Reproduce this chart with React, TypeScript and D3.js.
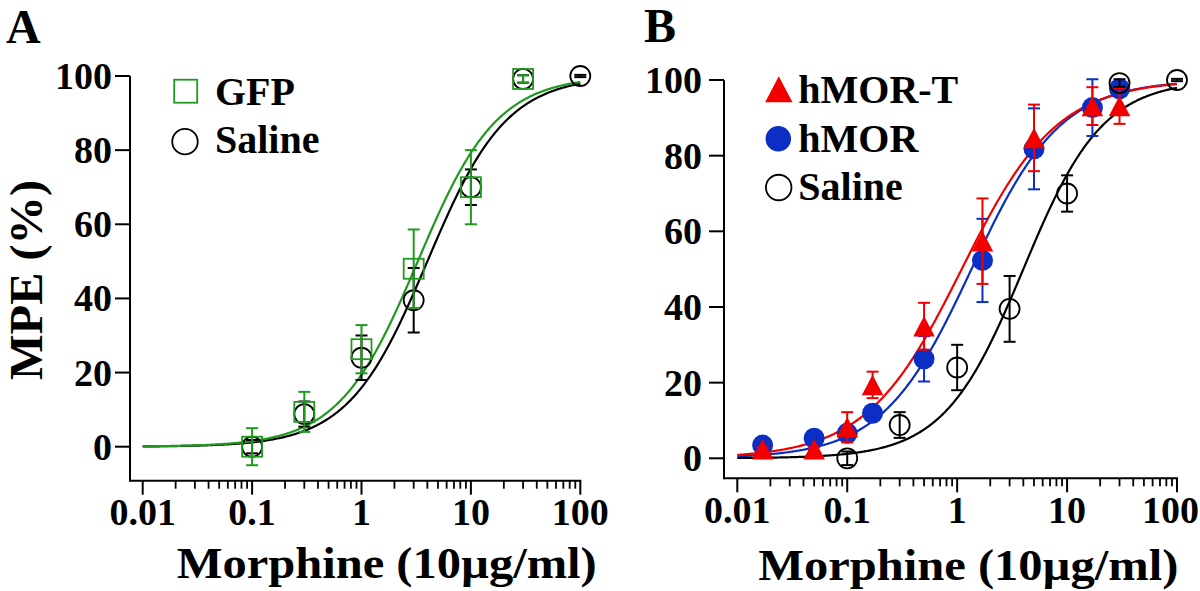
import React from "react";
import * as d3 from "d3";

// ---------- data ----------
const salineDoses = [0.1, 0.3, 1, 3, 10, 30, 100];
const salineMPE = [0, 8.8, 24, 39.5, 70, 99.2, 100];
const salineSEM = [1.8, 3.4, 6, 8.7, 4.8, 1, 0.3];

const gfpDoses = [0.1, 0.3, 1, 3, 10, 30];
const gfpMPE = [0, 9.4, 26.3, 48, 70, 99.2];
const gfpSEM = [5, 5.4, 6.5, 10.6, 10, 1];

const hmorDoses = [0.017, 0.05, 0.1, 0.17, 0.5, 1.7, 5, 17, 30];
const hmorMPE = [3.5, 5.3, 6.6, 11.9, 26.3, 52.3, 81.8, 92.7, 97.7];
const hmorSEM = [1, 1.5, 2, 1.5, 6, 11, 10.7, 7.5, 1.5];
const hmorTMPE = [2.4, 2.4, 8.2, 19.4, 34.9, 57.4, 84.7, 93.1, 93.1];
const hmorTSEM = [0.5, 0.5, 4, 3.5, 6.2, 11.3, 8.8, 5, 4.7];

// fitted dose-response parameters: [EC50, Hill slope]
const fitSaline = [4.0, 1.2];
const fitGFP = [3.27, 1.2];
const fitHMOR = [1.35, 1.07];
const fitHMORT = [1.1, 1.0];

const xTickValues = [0.01, 0.1, 1, 10, 100];
const xTickLabels = ["0.01", "0.1", "1", "10", "100"];
const yTickValues = [0, 20, 40, 60, 80, 100];

const xTitle = "Morphine (10\u00b5g/ml)";
const yTitle = "MPE (%)";

const GREEN = "#1f9a1f";
const RED = "#f20000";
const BLUE = "#0b2fc4";
const BLACK = "#000";
const FONT = "'Liberation Serif', 'Times New Roman', Times, serif";

const hill = (x: number, p: number[]) => 100 / (1 + Math.pow(p[0] / x, p[1]));

type MarkerKind = "square" | "circle" | "disc" | "triangle";

type Series = {
  doses: number[];
  mean: number[];
  sem: number[];
  color: string;
  marker: MarkerKind;
  fit: number[];
};

type LegendItem = { label: string; marker: MarkerKind; color: string; cx: number; cy: number; tx: number; ty: number };

type PanelProps = {
  letter: string;
  letterX: number;
  letterY: number;
  xRange: [number, number];
  yRange: [number, number];
  axisX: number;
  axisY: number;
  yLabelGap: number;
  titleX: number;
  titleY: number;
  showYTitle: boolean;
  series: Series[];
  legend: LegendItem[];
};

function Marker({ kind, cx, cy, color, size }: { kind: MarkerKind; cx: number; cy: number; color: string; size: number }) {
  if (kind === "square") {
    return <rect x={cx - size / 2} y={cy - size / 2} width={size} height={size} fill="none" stroke={color} strokeWidth={1.8} />;
  }
  if (kind === "circle") {
    return <circle cx={cx} cy={cy} r={size / 2} fill="none" stroke={color} strokeWidth={1.8} />;
  }
  if (kind === "disc") {
    return <circle cx={cx} cy={cy} r={size / 2} fill={color} stroke="none" />;
  }
  const w = size * 1.05;
  const h = size;
  const pts = [
    [cx, cy - h / 2],
    [cx + w / 2, cy + h / 2],
    [cx - w / 2, cy + h / 2],
  ];
  return <polygon points={pts.map((p) => p.join(",")).join(" ")} fill={color} />;
}

function Panel(props: PanelProps) {
  const x = d3.scaleLog().domain([0.01, 100]).range(props.xRange);
  const y = d3.scaleLinear().domain([0, 100]).range(props.yRange);
  const minor: number[] = [];
  [0.01, 0.1, 1, 10].forEach((d) => {
    for (let k = 2; k <= 9; k++) minor.push(d * k);
  });
  const curveX = d3.range(0, 401).map((i) => Math.pow(10, -2 + (4 * i) / 400));
  const cap = 6;
  return (
    <g>
      <text x={props.letterX} y={props.letterY} fontFamily={FONT} fontWeight="bold" fontSize={48}>
        {props.letter}
      </text>
      {/* axes */}
      <line x1={props.axisX} x2={props.axisX} y1={y(100)} y2={props.axisY + 1} stroke={BLACK} strokeWidth={2} />
      <line x1={props.axisX} x2={x(100) + 1} y1={props.axisY} y2={props.axisY} stroke={BLACK} strokeWidth={2} />
      {yTickValues.map((v) => (
        <g key={"yt" + v}>
          <line x1={props.axisX - 15} x2={props.axisX} y1={y(v)} y2={y(v)} stroke={BLACK} strokeWidth={2} />
          <text
            x={props.axisX - props.yLabelGap}
            y={y(v) + 13}
            textAnchor="end"
            fontFamily={FONT}
            fontWeight="bold"
            fontSize={38}
          >
            {v}
          </text>
        </g>
      ))}
      {xTickValues.map((v, i) => {
        const tx = x(v);
        const halfW = xTickLabels[i].length * 9.5;
        const overflow = tx + halfW > 1199;
        return (
          <g key={"xt" + v}>
            <line x1={tx} x2={tx} y1={props.axisY} y2={props.axisY + 14} stroke={BLACK} strokeWidth={2} />
            <text
              x={overflow ? 1199 : tx}
              y={props.axisY + 44.5}
              textAnchor={overflow ? "end" : "middle"}
              fontFamily={FONT}
              fontWeight="bold"
              fontSize={38}
            >
              {xTickLabels[i]}
            </text>
          </g>
        );
      })}
      {minor.map((v) => (
        <line key={"mt" + v} x1={x(v)} x2={x(v)} y1={props.axisY} y2={props.axisY + 8} stroke={BLACK} strokeWidth={1.8} />
      ))}
      <text
        x={props.titleX}
        y={props.titleY}
        fontFamily={FONT}
        fontWeight="bold"
        fontSize={45}
        textLength={420}
        lengthAdjust="spacingAndGlyphs"
      >
        {xTitle}
      </text>
      {props.showYTitle && (
        <text
          transform={`translate(41.5,280) rotate(-90)`}
          textAnchor="middle"
          fontFamily={FONT}
          fontWeight="bold"
          fontSize={47}
          textLength={200}
          lengthAdjust="spacingAndGlyphs"
        >
          {yTitle}
        </text>
      )}
      {/* fitted curves */}
      {props.series.map((s, si) => {
        const path = d3
          .line<number>()
          .x((d) => x(d))
          .y((d) => y(hill(d, s.fit)))(curveX) as string;
        return <path key={"c" + si} d={path} fill="none" stroke={s.color} strokeWidth={2.2} />;
      })}
      {/* points with SEM bars */}
      {props.series.map((s, si) => (
        <g key={"s" + si}>
          {s.doses.map((d, i) => {
            const cx = x(d);
            const top = y(s.mean[i] + s.sem[i]);
            const bot = y(s.mean[i] - s.sem[i]);
            return (
              <g key={i}>
                <line x1={cx} x2={cx} y1={top} y2={bot} stroke={s.color} strokeWidth={2} />
                <line x1={cx - cap} x2={cx + cap} y1={top} y2={top} stroke={s.color} strokeWidth={2} />
                <line x1={cx - cap} x2={cx + cap} y1={bot} y2={bot} stroke={s.color} strokeWidth={2} />
              </g>
            );
          })}
          {s.doses.map((d, i) => (
            <Marker
              key={"m" + i}
              kind={s.marker}
              cx={x(d)}
              cy={y(s.mean[i])}
              color={s.color}
              size={s.marker === "triangle" ? 20.5 : s.marker === "disc" ? 21 : 20}
            />
          ))}
        </g>
      ))}
      {/* legend */}
      {props.legend.map((l, i) => (
        <g key={"l" + i}>
          <Marker
            kind={l.marker}
            cx={l.cx}
            cy={l.cy}
            color={l.color}
            size={l.marker === "triangle" ? 26 : l.marker === "square" ? 23 : 25.5}
          />
          <text x={l.tx} y={l.ty} fontFamily={FONT} fontWeight="bold" fontSize={40}>
            {l.label}
          </text>
        </g>
      ))}
    </g>
  );
}

export default function App() {
  const salineSeries: Series = {
    doses: salineDoses,
    mean: salineMPE,
    sem: salineSEM,
    color: BLACK,
    marker: "circle",
    fit: fitSaline,
  };
  const gfpSeries: Series = { doses: gfpDoses, mean: gfpMPE, sem: gfpSEM, color: GREEN, marker: "square", fit: fitGFP };
  const hmorSeries: Series = { doses: hmorDoses, mean: hmorMPE, sem: hmorSEM, color: BLUE, marker: "disc", fit: fitHMOR };
  const hmorTSeries: Series = { doses: hmorDoses, mean: hmorTMPE, sem: hmorTSEM, color: RED, marker: "triangle", fit: fitHMORT };
  return (
    <svg
      width={1200}
      height={591}
      viewBox="0 0 1200 591"
      style={{ position: "absolute", left: 0, top: 0, background: "#fff", display: "block" }}
    >
      <rect x={0} y={0} width={1200} height={591} fill="#fff" />
      <Panel
        letter="A"
        letterX={6}
        letterY={42.7}
        xRange={[142.7, 580.3]}
        yRange={[446.7, 76]}
        axisX={130}
        axisY={480.7}
        yLabelGap={18}
        titleX={176.7}
        titleY={578.3}
        showYTitle={true}
        series={[salineSeries, gfpSeries]}
        legend={[
          { label: "GFP", marker: "square", color: GREEN, cx: 185.7, cy: 91.2, tx: 215, ty: 105 },
          { label: "Saline", marker: "circle", color: BLACK, cx: 185, cy: 141.7, tx: 215, ty: 153.3 },
        ]}
      />
      <Panel
        letter="B"
        letterX={644}
        letterY={41.7}
        xRange={[737.3, 1177]}
        yRange={[458.3, 80]}
        axisX={724}
        axisY={478.3}
        yLabelGap={22}
        titleX={758.3}
        titleY={580}
        showYTitle={false}
        series={[hmorSeries, hmorTSeries, salineSeries]}
        legend={[
          { label: "hMOR-T", marker: "triangle", color: RED, cx: 778.8, cy: 89.3, tx: 798.3, ty: 102.7 },
          { label: "hMOR", marker: "disc", color: BLUE, cx: 778.3, cy: 138.7, tx: 798.3, ty: 151.7 },
          { label: "Saline", marker: "circle", color: BLACK, cx: 778.7, cy: 187.5, tx: 798.3, ty: 200 },
        ]}
      />
    </svg>
  );
}
